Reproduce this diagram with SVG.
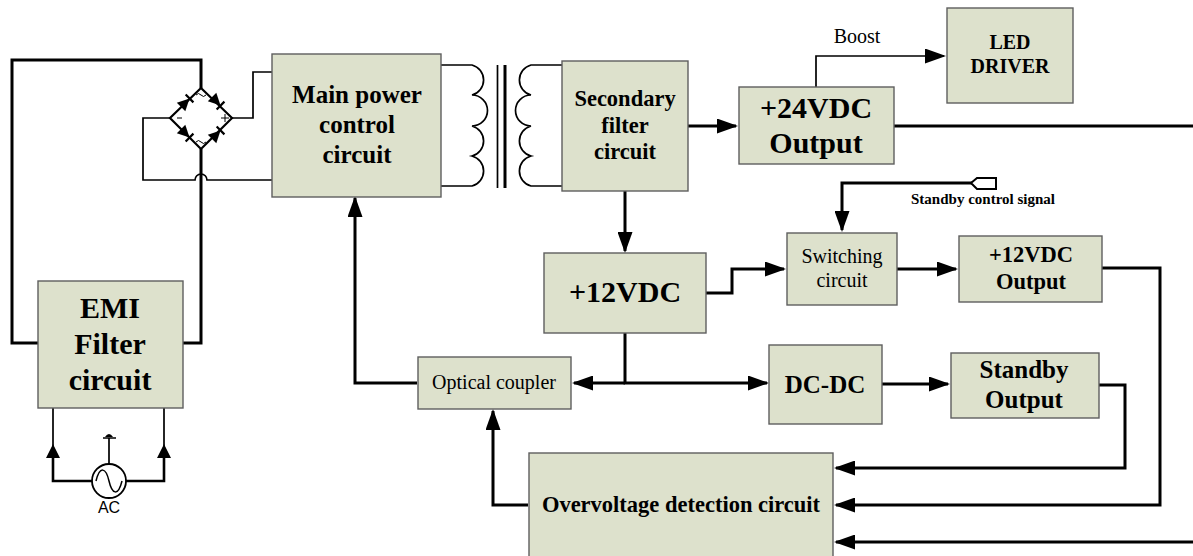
<svg xmlns="http://www.w3.org/2000/svg" width="1193" height="556" viewBox="0 0 1193 556">
<defs>
<marker id="a" markerUnits="userSpaceOnUse" markerWidth="22" markerHeight="15" refX="19" refY="7.500" orient="auto"><path d="M0,0 L21,7.500 L0,15 Z" fill="#000"/></marker>
<g id="d"><path d="M-7,-6 L5,0 L-7,6Z" fill="#000"/><path d="M5,-5.500V5.500" fill="none" stroke="#000" stroke-width="2.200"/></g>
</defs>
<style>
.b{fill:#dde1cc;stroke:#5e5e5e;stroke-width:1.400}
text{font-family:"Liberation Serif",serif;fill:#000;text-anchor:middle}
.k{font-weight:bold}
.c{fill:none;stroke:#000;stroke-width:3}
.t{fill:none;stroke:#000;stroke-width:1.700}
.m{fill:none;stroke:#000;stroke-width:2.200}
</style>
<rect width="1193" height="556" fill="#fff"/>
<g id="connectors">
<path class="c" d="M38,343H12V60H201V88"/>
<path class="c" d="M183,343H201V149"/>
<path class="t" d="M170,118H143V180H195A6,6 0 0 1 207,180H272M232,118H253V72H272"/>
<path class="m" d="M201,88L232,118L201,149L170,118Z"/>
<use href="#d" transform="translate(186,102) rotate(-45)"/>
<use href="#d" transform="translate(217,102) rotate(45)"/>
<use href="#d" transform="translate(186,134) rotate(45)"/>
<use href="#d" transform="translate(217,134) rotate(-45)"/>
<path d="M177,118H182M221,118H229M225,114V122M196,95q2.500,-3 5,0t5,0M196,142q2.500,-3 5,0t5,0" fill="none" stroke="#000" stroke-width="1"/>
<path class="t" d="M441,65H472A15.500,15.500 0 0 1 472,95A15.500,15.500 0 0 1 472,126A15.500,15.500 0 0 1 472,156A15.500,15.500 0 0 1 472,186H441"/>
<path class="t" d="M562,65H531A15.500,15.500 0 0 0 531,95A15.500,15.500 0 0 0 531,126A15.500,15.500 0 0 0 531,156A15.500,15.500 0 0 0 531,186H562"/>
<path class="t" d="M497.500,65V188"/><path class="c" d="M505,65V188"/>
<path class="c" d="M688,126H736" marker-end="url(#a)"/>
<path class="t" d="M816,87V56H944" marker-end="url(#a)"/>
<path class="c" d="M894,126H1193"/>
<path class="c" d="M625,191V251" marker-end="url(#a)"/>
<path class="c" d="M706,293H732V269H784" marker-end="url(#a)"/>
<path class="c" d="M972,183H842V230" marker-end="url(#a)"/>
<path d="M971,183L977,178H996V189H977Z" fill="#fff" stroke="#000" stroke-width="2"/>
<path class="c" d="M897,269H956" marker-end="url(#a)"/>
<path class="c" d="M1102,268H1160V505H836" marker-end="url(#a)"/>
<path class="c" d="M625,333V383H767" marker-end="url(#a)"/>
<path class="c" d="M625,383H574" marker-end="url(#a)"/>
<path class="c" d="M882,384H948" marker-end="url(#a)"/>
<path class="c" d="M1099,385H1125V468H836" marker-end="url(#a)"/>
<path class="c" d="M1193,542H836" marker-end="url(#a)"/>
<path class="c" d="M417,383H355V198" marker-end="url(#a)"/>
<path class="c" d="M528,505H493V411" marker-end="url(#a)"/>
<path class="t" d="M53,408V446M164,408V446"/>
<path class="c" d="M53,456V481H92M164,456V481H126" style="stroke-width:2.600"/>
<path d="M53,444L60,458H46ZM164,444L171,458H157Z" fill="#000"/>
<circle cx="109" cy="481" r="17" fill="#fff" stroke="#000" stroke-width="1.800"/>
<path d="M96,481C100,465 106,468 109,481C112,494 118,497 122,481" fill="none" stroke="#000" stroke-width="1.500"/>
<path class="t" d="M109,464V438M103,438H116"/>
<path d="M105,437Q109,431 113,437Z" fill="#000"/>
</g>
<g id="n-emi"><rect class="b" x="38" y="281" width="145" height="127"/><text class="k" x="110" y="318" font-size="30">EMI</text><text class="k" x="110" y="354" font-size="30">Filter</text><text class="k" x="110" y="390" font-size="30">circuit</text></g>
<g id="n-main"><rect class="b" x="272" y="54" width="169" height="143"/><text class="k" x="357" y="103" font-size="25">Main power</text><text class="k" x="357" y="133" font-size="25">control</text><text class="k" x="357" y="163" font-size="25">circuit</text></g>
<g id="n-sec"><rect class="b" x="562" y="61" width="126" height="130"/><text class="k" x="625" y="106" font-size="22.500">Secondary</text><text class="k" x="625" y="133" font-size="22.500">filter</text><text class="k" x="625" y="159" font-size="22.500">circuit</text></g>
<g id="n-24"><rect class="b" x="739" y="87" width="155" height="77"/><text class="k" x="816" y="118" font-size="30">+24VDC</text><text class="k" x="816" y="153" font-size="30">Output</text></g>
<g id="n-led"><rect class="b" x="947" y="8" width="126" height="95"/><text class="k" x="1010" y="49" font-size="20">LED</text><text class="k" x="1010" y="73" font-size="20">DRIVER</text></g>
<text x="857" y="43" font-size="20">Boost</text>
<text class="k" x="983" y="204" font-size="15">Standby control signal</text>
<g id="n-12"><rect class="b" x="544" y="253" width="162" height="80"/><text class="k" x="625" y="302" font-size="30">+12VDC</text></g>
<g id="n-sw"><rect class="b" x="787" y="233" width="110" height="72"/><text x="842" y="263" font-size="20">Switching</text><text x="842" y="287" font-size="20">circuit</text></g>
<g id="n-12o"><rect class="b" x="959" y="236" width="143" height="66"/><text class="k" x="1031" y="262" font-size="22.500">+12VDC</text><text class="k" x="1031" y="289" font-size="22.500">Output</text></g>
<g id="n-opt"><rect class="b" x="418" y="357" width="153" height="52"/><text x="494" y="389" font-size="20">Optical coupler</text></g>
<g id="n-dc"><rect class="b" x="769" y="345" width="113" height="79"/><text class="k" x="825" y="393" font-size="25">DC-DC</text></g>
<g id="n-stby"><rect class="b" x="951" y="353" width="148" height="65"/><text class="k" x="1024" y="378" font-size="25">Standby</text><text class="k" x="1024" y="408" font-size="25">Output</text></g>
<g id="n-ovp"><rect class="b" x="529" y="453" width="304" height="110"/><text class="k" x="681" y="512" font-size="22.500">Overvoltage detection circuit</text></g>
<text x="109" y="513" font-size="16" style="font-family:'Liberation Sans',sans-serif">AC</text>
</svg>
